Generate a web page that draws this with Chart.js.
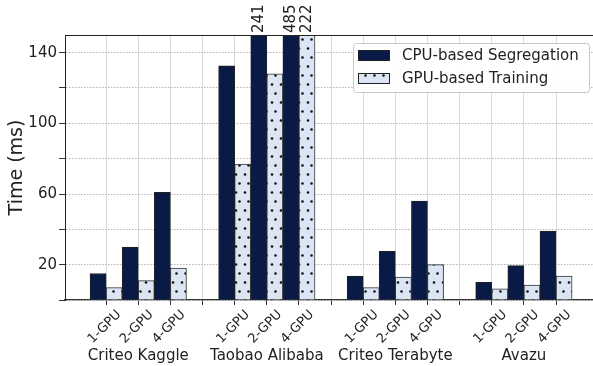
<!DOCTYPE html>
<html>
<head>
<meta charset="utf-8">
<script src="https://cdn.jsdelivr.net/npm/chart.js@4.4.0/dist/chart.umd.min.js"></script>
<style>
  html, body { margin: 0; padding: 0; background: #fff; }
</style>
</head>
<body>
<canvas id="myChart" width="593" height="366"></canvas>
<script>
// datasets on the x axis and the gpu counts inside each group
var groups = ["Criteo Kaggle", "Taobao Alibaba", "Criteo Terabyte", "Avazu"];
var gpuConfigs = ["1-GPU", "2-GPU", "4-GPU"];

// time in ms, group by group, 1/2/4 GPU
var cpuTimes = [15, 30, 61, 132.5, 241, 485, 13.5, 27.5, 56, 10, 19.5, 39];
var gpuTimes = [7, 11, 18, 77, 128, 222, 7, 13, 20, 6.3, 8.4, 13.5];

var yTicks = [0, 20, 40, 60, 80, 100, 120, 140];
var yLabels = [20, 60, 100, 140];
var yMax = 150;

// x positions: each group takes 3 slots + 1 empty slot
var xPos = [];
var xTickLabels = {};
var groupCenters = [];
groups.forEach(function (g, i) {
  gpuConfigs.forEach(function (c, j) {
    var p = 1 + 4 * i + j;
    xPos.push(p);
    xTickLabels[p] = c;
  });
  groupCenters.push(2 + 4 * i);
});
var xGrid = [];
for (var k = 1; k <= 15; k++) xGrid.push(k);

function makeDots() {
  var c = document.createElement("canvas");
  c.width = 9; c.height = 18;
  var x = c.getContext("2d");
  x.fillStyle = "#dbe5f4";
  x.fillRect(0, 0, 9, 18);
  x.fillStyle = "#111";
  [[5.5, 3.5], [2, 12.5]].forEach(function (d) {
    x.beginPath();
    x.arc(d[0], d[1], 1.3, 0, Math.PI * 2);
    x.fill();
  });
  return document.getElementById("myChart").getContext("2d").createPattern(c, "repeat");
}

var cpuColor = "#081a45";
var dots = makeDots();

const extras = {
  id: "extras",
  afterDatasetsDraw(chart) {
    const ctx = chart.ctx, area = chart.chartArea, max = chart.scales.y.max;
    ctx.save();
    ctx.font = '15px "DejaVu Sans"';
    ctx.fillStyle = "#222";
    chart.data.datasets.forEach((ds, di) => {
      chart.getDatasetMeta(di).data.forEach((bar, i) => {
        const v = ds.data[i].y;
        if (v <= max) return;
        ctx.save();
        ctx.translate(bar.x, area.top - 2);
        ctx.rotate(-Math.PI / 2);
        ctx.textAlign = "left";
        ctx.textBaseline = "middle";
        ctx.fillText(String(v), 0, 0);
        ctx.restore();
      });
    });
    // top spine
    ctx.strokeStyle = "#222";
    ctx.lineWidth = 1;
    ctx.beginPath();
    ctx.moveTo(area.left, area.top + 0.5);
    ctx.lineTo(area.right, area.top + 0.5);
    ctx.stroke();
    ctx.restore();
  },
  afterDraw(chart) {
    // legend box in the upper right
    const ctx = chart.ctx;
    const bx = 353, by = 43, bw = 236, bh = 49;
    ctx.save();
    ctx.beginPath();
    ctx.roundRect(bx + 0.5, by + 0.5, bw, bh, 3);
    ctx.fillStyle = "rgba(255,255,255,0.9)";
    ctx.fill();
    ctx.strokeStyle = "#c8c8c8";
    ctx.lineWidth = 1;
    ctx.stroke();
    ctx.font = '15px "DejaVu Sans"';
    ctx.textBaseline = "middle";
    chart.data.datasets.forEach((ds, i) => {
      const y = by + 7 + i * 23;
      ctx.fillStyle = ds.backgroundColor;
      ctx.fillRect(bx + 5, y, 32, 11);
      ctx.strokeStyle = "#222";
      ctx.strokeRect(bx + 5.5, y + 0.5, 31, 10);
      ctx.fillStyle = "#222";
      ctx.fillText(ds.label, bx + 49, y + 6);
    });
    ctx.restore();
  }
};

Chart.defaults.font.family = '"DejaVu Sans"';
Chart.defaults.color = "#222";

new Chart("myChart", {
  type: "bar",
  data: {
    datasets: [
      {
        label: "CPU-based Segregation",
        data: cpuTimes.map((v, i) => ({ x: xPos[i], y: v })),
        backgroundColor: cpuColor,
        borderColor: "#222",
        borderWidth: 1
      },
      {
        label: "GPU-based Training",
        data: gpuTimes.map((v, i) => ({ x: xPos[i], y: v })),
        backgroundColor: dots,
        borderColor: "#333",
        borderWidth: 1
      }
    ]
  },
  options: {
    responsive: false,
    animation: false,
    layout: { padding: { top: 35, left: 0, right: 0, bottom: 0 } },
    datasets: { bar: { categoryPercentage: 1, barPercentage: 1 } },
    plugins: { legend: { display: false }, tooltip: { enabled: false } },
    scales: {
      x: {
        type: "linear",
        position: "bottom",
        min: -0.28,
        max: 16.15,
        offset: false,
        grid: { offset: false, color: "#dadada", tickColor: "#333", tickLength: 5 },
        border: { color: "#333", width: 1.2 },
        afterBuildTicks: s => { s.ticks = xGrid.map(v => ({ value: v })); },
        ticks: {
          autoSkip: false,
          minRotation: 45,
          maxRotation: 45,
          padding: 2,
          labelOffset: 13,
          font: { size: 13 },
          callback: v => xTickLabels[v] || ""
        },
        afterFit: s => { s.height = 45; }
      },
      xg: {
        type: "linear",
        position: "bottom",
        min: -0.28,
        max: 16.15,
        offset: false,
        grid: { display: false, drawTicks: false },
        border: { display: false },
        afterBuildTicks: s => { s.ticks = groupCenters.map(v => ({ value: v })); },
        ticks: {
          autoSkip: false,
          maxRotation: 0,
          padding: 2,
          font: { size: 15 },
          callback: (v, i) => groups[i]
        },
        afterFit: s => { s.height = 21; }
      },
      y: {
        min: 0,
        max: yMax,
        afterBuildTicks: s => { s.ticks = yTicks.map(v => ({ value: v })); },
        grid: { color: "#b4b4b4", tickColor: "#333", tickLength: 6 },
        border: { color: "#222", width: 1, dash: [1.5, 1.5] },
        ticks: {
          padding: 2,
          font: { size: 15 },
          callback: v => (yLabels.indexOf(v) >= 0 ? v : "")
        },
        title: {
          display: true,
          text: "Time (ms)",
          font: { size: 19 },
          padding: { top: 6, bottom: 0 }
        },
        afterFit: s => { s.width = 65; }
      }
    }
  },
  plugins: [extras]
});
</script>
</body>
</html>
